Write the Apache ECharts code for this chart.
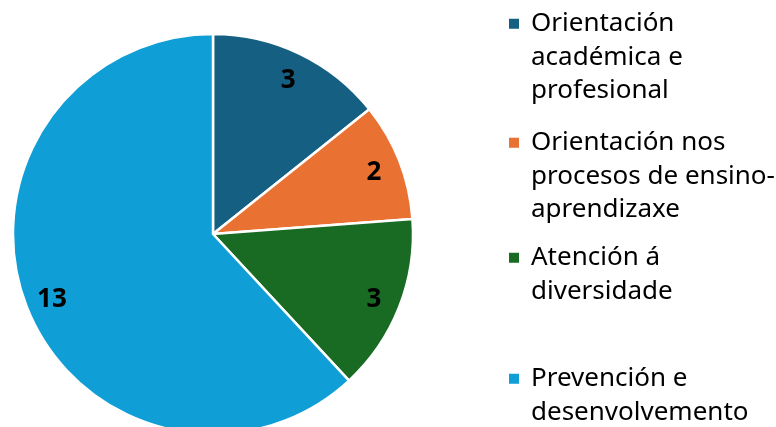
<!DOCTYPE html>
<html>
<head>
<meta charset="utf-8">
<style>
  html, body { margin: 0; padding: 0; background: #fff; }
  #chart { width: 776px; height: 427px; }
</style>
<script src="https://cdn.jsdelivr.net/npm/echarts@6/dist/echarts.min.js"></script>
</head>
<body>
<div id="chart"></div>
<script>
// datos
const categories = [
  'Orientación\nacadémica e\nprofesional',
  'Orientación nos\nprocesos de ensino-\naprendizaxe',
  'Atención á\ndiversidade',
  'Prevención e\ndesenvolvemento'
]
const values = [3, 2, 3, 13]
const colors = ['#156082', '#E97132', '#196B24', '#0F9ED5']

const chart = echarts.init(document.getElementById('chart'))

const lineH = 33.5
const square = 10
// top of each legend block (text top)
const legendTops = [7, 126, 241, 362]

const pieData = categories.map((name, i) => ({
  name,
  value: values[i],
  itemStyle: {color: colors[i]}
}))

// one legend per item so the square lines up with the first text line
const legends = categories.map((name, i) => {
  const lines = name.split('\n').length
  const h = square + (lines - 1) * lineH
  return {
    left: 509,
    top: legendTops[i],
    padding: 0,
    selectedMode: false,
    itemWidth: square,
    itemHeight: h,
    itemGap: 0,
    itemStyle: {borderWidth: 0},
    data: [{
      name,
      icon: `path://M0,0h${square}v${square}h-${square}zM0,${h}h0.001z`
    }],
    textStyle: {
      fontFamily: 'Noto Sans',
      fontSize: 26,
      lineHeight: lineH,
      color: '#000',
      padding: [0, 0, 0, 7]
    }
  }
})

const option = {
  animation: false,
  legend: legends,
  series: [
    {
      type: 'pie',
      center: [213, 234],
      radius: 200,
      startAngle: 90,
      clockwise: true,
      silent: true,
      label: {show: false},
      labelLine: {show: false},
      itemStyle: {borderColor: '#fff', borderWidth: 2.5},
      data: pieData
    },
    {
      // ring only used to place the labels near the rim
      type: 'pie',
      center: [213, 234],
      radius: [140, 200],
      startAngle: 90,
      clockwise: true,
      silent: true,
      itemStyle: {color: 'transparent', borderWidth: 0},
      label: {
        show: true,
        position: 'inside',
        formatter: '{c}',
        fontFamily: 'Noto Sans',
        fontWeight: 'bold',
        fontSize: 26,
        color: '#000',
        offset: [0, 2]
      },
      labelLine: {show: false},
      data: categories.map((name, i) => ({name, value: values[i]}))
    }
  ]
}

chart.setOption(option)
</script>
</body>
</html>
